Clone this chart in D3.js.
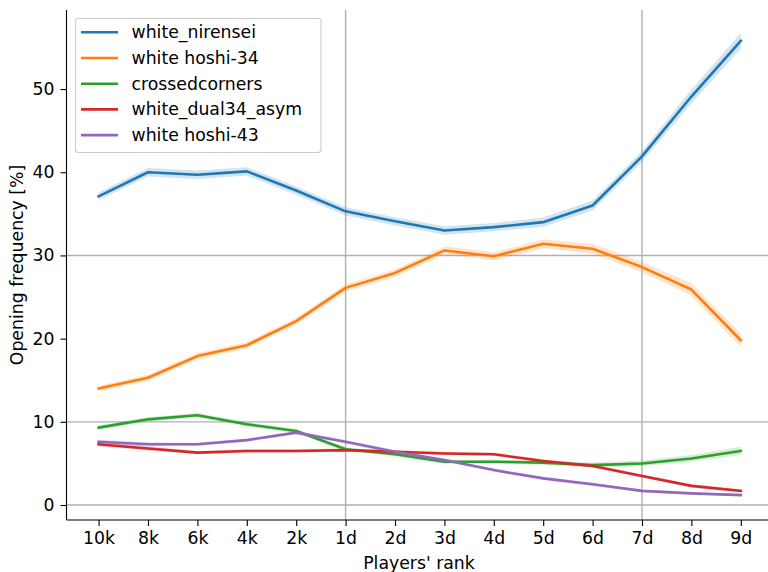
<!DOCTYPE html>
<html>
<head>
<meta charset="utf-8">
<script src="https://cdn.jsdelivr.net/npm/d3@7"></script>
<style>
  html, body { margin: 0; padding: 0; background: #fff; }
  svg { display: block; font-family: "DejaVu Sans", sans-serif; }
</style>
</head>
<body>
<svg id="chart" width="768" height="572"></svg>
<script>
// Player ranks along the x axis
const ranks = ["10k", "8k", "6k", "4k", "2k", "1d", "2d", "3d", "4d", "5d", "6d", "7d", "8d", "9d"];

// Opening frequency [%] per rank
const nirensei    = [37.1, 40.0, 39.7, 40.1, 37.8, 35.3, 34.1, 33.0, 33.4, 34.0, 36.0, 41.9, 49.1, 55.8];
const hoshi34     = [14.0, 15.3, 17.9, 19.2, 22.1, 26.1, 27.9, 30.6, 29.9, 31.4, 30.8, 28.6, 25.9, 19.8];
const crossed     = [9.3, 10.3, 10.8, 9.7, 8.9, 6.7, 6.1, 5.2, 5.2, 5.1, 4.8, 5.0, 5.6, 6.5];
const dual34asym  = [7.3, 6.8, 6.3, 6.5, 6.5, 6.6, 6.4, 6.2, 6.1, 5.3, 4.7, 3.5, 2.3, 1.7];
const hoshi43     = [7.6, 7.3, 7.3, 7.8, 8.7, 7.6, 6.4, 5.4, 4.2, 3.2, 2.5, 1.7, 1.4, 1.2];

// Half-width of the confidence band around each series
const nirenseiCI   = [0.45, 0.5, 0.5, 0.5, 0.5, 0.5, 0.5, 0.5, 0.5, 0.55, 0.6, 0.65, 0.8, 0.95];
const hoshi34CI    = [0.35, 0.35, 0.4, 0.4, 0.4, 0.45, 0.45, 0.5, 0.5, 0.55, 0.6, 0.65, 0.75, 0.85];
const crossedCI    = [0.25, 0.25, 0.25, 0.25, 0.25, 0.25, 0.25, 0.25, 0.25, 0.25, 0.3, 0.35, 0.4, 0.5];
const dual34asymCI = [0.25, 0.25, 0.2, 0.2, 0.2, 0.2, 0.2, 0.2, 0.2, 0.2, 0.2, 0.2, 0.2, 0.2];
const hoshi43CI    = [0.25, 0.25, 0.2, 0.2, 0.2, 0.2, 0.2, 0.2, 0.2, 0.2, 0.2, 0.15, 0.15, 0.15];

const seriesNames  = ["white_nirensei", "white hoshi-34", "crossedcorners", "white_dual34_asym", "white hoshi-43"];
const seriesColors = ["#1f77b4", "#ff7f0e", "#2ca02c", "#d62728", "#9467bd"];

// Reference lines
const yRefLines = [0, 10, 30];
const xRefLines = ["1d", "7d"];
const yTicks = [0, 10, 20, 30, 40, 50];

const series = [
  { name: seriesNames[0], color: seriesColors[0], values: nirensei,   ci: nirenseiCI },
  { name: seriesNames[1], color: seriesColors[1], values: hoshi34,    ci: hoshi34CI },
  { name: seriesNames[2], color: seriesColors[2], values: crossed,    ci: crossedCI },
  { name: seriesNames[3], color: seriesColors[3], values: dual34asym, ci: dual34asymCI },
  { name: seriesNames[4], color: seriesColors[4], values: hoshi43,    ci: hoshi43CI }
];

const svg = d3.select("#chart");
const plotL = 66.5, plotR = 773, plotT = 10, plotB = 520;
const fs = 17.3;

const x = d3.scalePoint().domain(ranks).range([98.6, 740.8]);
const y = d3.scaleLinear().domain([-1.8, 59.5]).range([plotB, plotT]);

// reference grid lines
const grid = svg.append("g");
grid.selectAll("line.h").data(yRefLines).join("line").attr("class", "h")
  .attr("x1", plotL).attr("x2", plotR)
  .attr("y1", d => y(d)).attr("y2", d => y(d))
  .attr("stroke", "#b0b0b0").attr("stroke-width", 1.4);
grid.selectAll("line.v").data(xRefLines).join("line").attr("class", "v")
  .attr("x1", d => x(d)).attr("x2", d => x(d))
  .attr("y1", plotT).attr("y2", plotB)
  .attr("stroke", "#b0b0b0").attr("stroke-width", 1.4);

// confidence bands
const area = d3.area()
  .x((d, i) => x(ranks[i]))
  .y0(d => y(d.v - d.c))
  .y1(d => y(d.v + d.c));
const line = d3.line()
  .x((d, i) => x(ranks[i]))
  .y(d => y(d));

series.forEach(s => {
  const pts = s.values.map((v, i) => ({ v, c: s.ci[i] }));
  svg.append("path").attr("d", area(pts))
    .attr("fill", s.color).attr("fill-opacity", 0.2).attr("stroke", "none");
});
series.forEach(s => {
  svg.append("path").attr("d", line(s.values))
    .attr("fill", "none").attr("stroke", s.color)
    .attr("stroke-width", 2.6).attr("stroke-linejoin", "round").attr("stroke-linecap", "square");
});

// axes
const xAxis = d3.axisBottom(x).tickSize(6).tickPadding(6);
const gx = svg.append("g").attr("transform", `translate(0,${plotB})`).call(xAxis);
gx.select(".domain").remove();
gx.selectAll(".tick line").attr("stroke", "#000").attr("stroke-width", 1.1);
gx.selectAll(".tick text").attr("font-size", fs).attr("fill", "#000")
  .attr("font-family", "DejaVu Sans");

const yAxis = d3.axisLeft(y).tickValues(yTicks).tickSize(6).tickPadding(6);
const gy = svg.append("g").attr("transform", `translate(${plotL},0)`).call(yAxis);
gy.select(".domain").remove();
gy.selectAll(".tick line").attr("stroke", "#000").attr("stroke-width", 1.1);
gy.selectAll(".tick text").attr("font-size", fs).attr("fill", "#000")
  .attr("font-family", "DejaVu Sans");

// spines
svg.append("line").attr("x1", plotL).attr("x2", plotL).attr("y1", plotT).attr("y2", plotB)
  .attr("stroke", "#000").attr("stroke-width", 1.1);
svg.append("line").attr("x1", plotL).attr("x2", plotR).attr("y1", plotB).attr("y2", plotB)
  .attr("stroke", "#000").attr("stroke-width", 1.1);

// axis labels
svg.append("text").attr("x", 419).attr("y", 569)
  .attr("text-anchor", "middle").attr("font-size", fs).text("Players' rank");
svg.append("text")
  .attr("transform", `translate(22.5,${(plotT + plotB) / 2}) rotate(-90)`)
  .attr("text-anchor", "middle").attr("font-size", fs).text("Opening frequency [%]");

// legend
const lg = svg.append("g");
lg.append("rect").attr("x", 75.5).attr("y", 18.5).attr("width", 245.5).attr("height", 134)
  .attr("rx", 3).attr("fill", "#fff").attr("fill-opacity", 0.8)
  .attr("stroke", "#cccccc").attr("stroke-width", 1.1);
series.forEach((s, i) => {
  const yy = 32.3 + i * 25.7;
  lg.append("line").attr("x1", 81).attr("x2", 118).attr("y1", yy).attr("y2", yy)
    .attr("stroke", s.color).attr("stroke-width", 2.6);
  lg.append("text").attr("x", 131.5).attr("y", yy).attr("dy", "0.35em")
    .attr("font-size", fs).text(s.name);
});
</script>
</body>
</html>
